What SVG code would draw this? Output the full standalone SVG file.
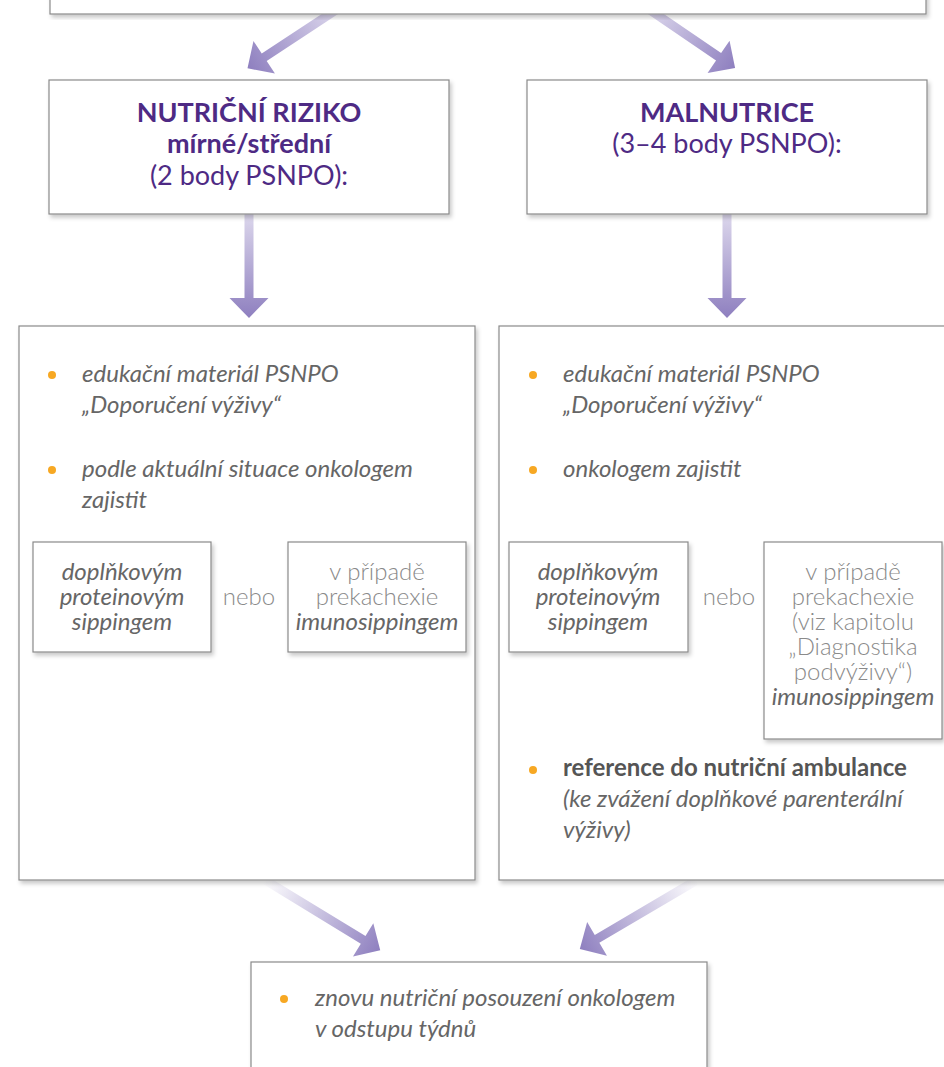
<svg xmlns="http://www.w3.org/2000/svg" width="944" height="1067" viewBox="0 0 944 1067">
<style>
.box{fill:#fff;stroke:#8a8a8a;stroke-width:1.2;filter:url(#sh)}
.t{font-family:Lato,"Liberation Sans",sans-serif;font-size:24px;fill:#666;font-weight:400}
.ttl{font-family:Lato,"Liberation Sans",sans-serif;fill:#4e2a84;text-anchor:middle;font-size:27px;font-weight:400}
.it{font-style:italic}
.c{text-anchor:middle}
.lt{fill:#8a8a8a;font-weight:300}
.b{font-weight:bold}
.dot{fill:#f7a823}
.chev{fill:none;stroke:#666;stroke-width:3;marker-start:url(#ah);marker-end:url(#ah)}
</style>
<defs>
<filter id="sh" x="-5%" y="-5%" width="115%" height="120%">
<feDropShadow dx="2" dy="3" stdDeviation="2" flood-color="#000" flood-opacity="0.22"/>
</filter>
<linearGradient id="g1" x1="0" y1="0" x2="0" y2="1">
<stop offset="0" stop-color="#dcd7ec"/>
<stop offset="1" stop-color="#8e7fbf"/>
</linearGradient>
<linearGradient id="g2" x1="0" y1="0" x2="0" y2="1">
<stop offset="0" stop-color="#ffffff"/>
<stop offset="1" stop-color="#8e7fbf"/>
</linearGradient>
<marker id="ah" markerUnits="userSpaceOnUse" markerWidth="16" markerHeight="16" viewBox="0 0 16 16" refX="12" refY="8" orient="auto-start-reverse">
<path d="M0,0 L15,8 L0,16 z" fill="#666"/>
</marker>
</defs>

<g id="connectors">
<g transform="translate(336,10) rotate(56.6)"><path d="M-4.5,0 H4.5 V86 H19.5 L0,106 L-19.5,86 H-4.5 Z" fill="url(#g1)"/></g>
<g transform="translate(650,10) rotate(-55.7)"><path d="M-4.5,0 H4.5 V83 H19.5 L0,103 L-19.5,83 H-4.5 Z" fill="url(#g1)"/></g>
<g transform="translate(249,214)"><path d="M-4.5,0 H4.5 V84 H19.5 L0,104 L-19.5,84 H-4.5 Z" fill="url(#g1)"/></g>
<g transform="translate(727,214)"><path d="M-4.5,0 H4.5 V84 H19.5 L0,104 L-19.5,84 H-4.5 Z" fill="url(#g1)"/></g>
<g transform="translate(265,880) rotate(-58.6)"><path d="M-4.5,0 H4.5 V115 H19.5 L0,135 L-19.5,115 H-4.5 Z" fill="url(#g2)"/></g>
<g transform="translate(697,880) rotate(59.5)"><path d="M-4.5,0 H4.5 V116 H19.5 L0,136 L-19.5,116 H-4.5 Z" fill="url(#g2)"/></g>
<path class="chev" d="M219,533 L250,507 L281,533"/>
<path class="chev" d="M696,533 L727,507 L758,533"/>
</g>

<g id="top"><rect class="box" x="50" y="-20" width="876" height="34"/></g>

<g id="riziko">
<rect class="box" x="49" y="80" width="400" height="134"/>
<text class="ttl b" x="249" y="122">NUTRIČNÍ RIZIKO</text>
<text class="ttl b" x="249" y="153">mírné/střední</text>
<text class="ttl" x="249" y="185">(2 body PSNPO):</text>
</g>

<g id="malnutrice">
<rect class="box" x="527" y="80" width="400" height="134"/>
<text class="ttl b" x="727" y="122">MALNUTRICE</text>
<text class="ttl" x="727" y="153">(3–4 body PSNPO):</text>
</g>

<g id="left-panel">
<rect class="box" x="19" y="326" width="456" height="554"/>
<circle class="dot" cx="52" cy="375" r="4"/>
<text class="t it" x="82" y="382">edukační materiál PSNPO</text>
<text class="t it" x="82" y="413">„Doporučení výživy“</text>
<circle class="dot" cx="52" cy="470" r="4"/>
<text class="t it" x="82" y="477">podle aktuální situace onkologem</text>
<text class="t it" x="82" y="508">zajistit</text>
</g>
<g id="left-a">
<rect class="box" x="33" y="542" width="178" height="110"/>
<text class="t it c" x="122" y="580">doplňkovým</text>
<text class="t it c" x="122" y="605">proteinovým</text>
<text class="t it c" x="122" y="630">sippingem</text>
</g>
<text class="t c lt" x="249" y="605">nebo</text>
<g id="left-b">
<rect class="box" x="288" y="542" width="178" height="110"/>
<text class="t c lt" x="377" y="580">v případě</text>
<text class="t c lt" x="377" y="605">prekachexie</text>
<text class="t it c" x="377" y="630">imunosippingem</text>
</g>

<g id="right-panel">
<rect class="box" x="499" y="326" width="460" height="554"/>
<circle class="dot" cx="533" cy="375" r="4"/>
<text class="t it" x="563" y="382">edukační materiál PSNPO</text>
<text class="t it" x="563" y="413">„Doporučení výživy“</text>
<circle class="dot" cx="533" cy="470" r="4"/>
<text class="t it" x="563" y="477">onkologem zajistit</text>
<circle class="dot" cx="533" cy="770" r="4"/>
<text class="t b" x="563" y="776" style="fill:#555">reference do nutriční ambulance</text>
<text class="t it" x="563" y="807">(ke zvážení doplňkové parenterální</text>
<text class="t it" x="563" y="838">výživy)</text>
</g>
<g id="right-a">
<rect class="box" x="509" y="542" width="179" height="110"/>
<text class="t it c" x="598" y="580">doplňkovým</text>
<text class="t it c" x="598" y="605">proteinovým</text>
<text class="t it c" x="598" y="630">sippingem</text>
</g>
<text class="t c lt" x="729" y="605">nebo</text>
<g id="right-b">
<rect class="box" x="764" y="542" width="178" height="197"/>
<text class="t c lt" x="853" y="580">v případě</text>
<text class="t c lt" x="853" y="605">prekachexie</text>
<text class="t c lt" x="853" y="630">(viz kapitolu</text>
<text class="t c lt" x="853" y="655">„Diagnostika</text>
<text class="t c lt" x="853" y="680">podvýživy“)</text>
<text class="t it c" x="853" y="705">imunosippingem</text>
</g>

<g id="bottom">
<rect class="box" x="251" y="962" width="456" height="130"/>
<circle class="dot" cx="284" cy="999" r="4"/>
<text class="t it" x="315" y="1006">znovu nutriční posouzení onkologem</text>
<text class="t it" x="315" y="1037">v odstupu týdnů</text>
</g>
</svg>
